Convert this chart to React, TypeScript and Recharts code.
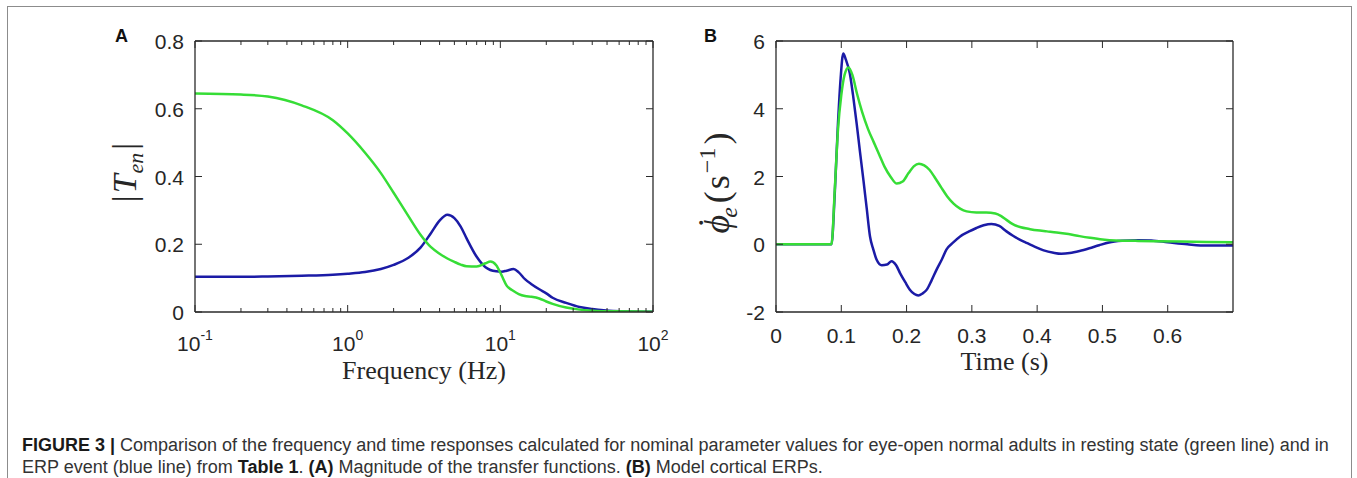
import React from 'react';
import { LineChart, Line, XAxis, YAxis } from 'recharts';

// Panel A: magnitude of the transfer function, log frequency axis
const FREQ_HZ = [
  0.1, 0.2, 0.3, 0.5, 0.8, 1, 1.3, 1.65, 2, 2.5, 3, 3.5, 4, 4.5, 5, 5.5, 6, 7, 8,
  8.6, 9.4, 10.2, 11, 12.2, 13.2, 14.5, 16, 18, 20, 22, 27, 33, 40, 55, 100,
];
const TEN_RESTING = [
  0.645, 0.642, 0.636, 0.61, 0.566, 0.527, 0.47, 0.41, 0.352, 0.283, 0.228, 0.192,
  0.172, 0.158, 0.148, 0.14, 0.135, 0.134, 0.144, 0.149, 0.138, 0.108, 0.078, 0.062,
  0.053, 0.047, 0.045, 0.04, 0.031, 0.024, 0.013, 0.007, 0.004, 0.002, 0.001,
];
const TEN_ERP = [
  0.104, 0.104, 0.105, 0.107, 0.11, 0.113, 0.118, 0.127, 0.139, 0.16, 0.19, 0.232,
  0.27, 0.287, 0.277, 0.252, 0.218, 0.163, 0.132, 0.124, 0.12, 0.119, 0.122, 0.127,
  0.117, 0.097, 0.082, 0.067, 0.055, 0.042, 0.027, 0.015, 0.009, 0.003, 0.0005,
];
const FREQ_TICKS = [
  0.1, 0.2, 0.3, 0.4, 0.5, 0.6, 0.7, 0.8, 0.9, 1, 2, 3, 4, 5, 6, 7, 8, 9, 10, 20, 30,
  40, 50, 60, 70, 80, 90, 100,
];
const TEN_TICKS = [0, 0.2, 0.4, 0.6, 0.8];

// Panel B: model cortical ERPs
const T_RESTING = [
  0, 0.085, 0.09, 0.095, 0.1, 0.105, 0.111, 0.117, 0.124, 0.132, 0.141, 0.15, 0.158,
  0.166, 0.176, 0.185, 0.194, 0.203, 0.211, 0.219, 0.227, 0.235, 0.244, 0.253, 0.262,
  0.272, 0.282, 0.292, 0.307, 0.322, 0.336, 0.345, 0.353, 0.362, 0.375, 0.388, 0.4,
  0.415, 0.43, 0.448, 0.465, 0.481, 0.5, 0.52, 0.55, 0.58, 0.62, 0.66, 0.7,
];
const PHI_RESTING = [
  0, 0, 1.6, 3.4, 4.4, 5.0, 5.22, 5.0, 4.45, 3.9, 3.4, 3.0, 2.65, 2.3, 1.98, 1.79,
  1.85, 2.1, 2.3, 2.38, 2.33, 2.2, 1.95, 1.68, 1.42, 1.2, 1.05, 0.97, 0.94, 0.94, 0.91,
  0.83, 0.72, 0.6, 0.5, 0.45, 0.41, 0.38, 0.35, 0.3, 0.24, 0.19, 0.14, 0.11, 0.1, 0.09,
  0.08, 0.07, 0.06,
];
const T_ERP = [
  0, 0.085, 0.09, 0.095, 0.099, 0.103, 0.107, 0.113, 0.118, 0.1235, 0.1285, 0.134,
  0.139, 0.144, 0.149, 0.154, 0.162, 0.17, 0.177, 0.184, 0.19, 0.198, 0.205, 0.212,
  0.218, 0.224, 0.231, 0.238, 0.246, 0.254, 0.261, 0.272, 0.282, 0.295, 0.307, 0.318,
  0.33, 0.342, 0.353, 0.363, 0.374, 0.385, 0.396, 0.41, 0.425, 0.437, 0.45, 0.465,
  0.48, 0.495, 0.51, 0.53, 0.555, 0.575, 0.6, 0.63, 0.66, 0.7,
];
const PHI_ERP = [
  0, 0, 1.5, 3.6, 4.9, 5.63, 5.45, 5.05, 4.4, 3.57, 2.75, 1.88, 1.05, 0.23, -0.15,
  -0.45, -0.62, -0.6, -0.5, -0.62, -0.85, -1.12, -1.34, -1.47, -1.51, -1.46, -1.34,
  -1.08, -0.75, -0.45, -0.16, 0.06, 0.23, 0.37, 0.48, 0.56, 0.6, 0.54, 0.38, 0.25,
  0.13, 0.03, -0.07, -0.18, -0.25, -0.28, -0.26, -0.2, -0.12, -0.03, 0.05, 0.1, 0.12,
  0.11, 0.06, 0, -0.04, -0.04,
];
const TIME_TICKS = [0, 0.1, 0.2, 0.3, 0.4, 0.5, 0.6];
const PHI_TICKS = [-2, 0, 2, 4, 6];

const GREEN = '#36dd36';
const BLUE = '#1b1ba6';
const AXIS = '#2a2a2a';
const TEXT = '#262626';
const SANS = "'Liberation Sans', Arial, Helvetica, sans-serif";
const SERIF = "'Liberation Serif', 'Times New Roman', serif";
const MAJOR = 7;
const MINOR = 4;

const panelA = FREQ_HZ.map((f, i) => ({ f, rest: TEN_RESTING[i], erp: TEN_ERP[i] }));
const restB = T_RESTING.map((t, i) => ({ t, v: PHI_RESTING[i] }));
const erpB = T_ERP.map((t, i) => ({ t, v: PHI_ERP[i] }));

const isDecade = (v: number) => Math.abs(Math.log10(v) - Math.round(Math.log10(v))) < 1e-9;

type Side = 'bottom' | 'top' | 'left' | 'right';

// ticks point into the plot box, MATLAB style
const inTick =
  (side: Side, opts: { major?: (v: number) => boolean; text?: (v: number, x: number, y: number) => React.ReactNode } = {}) =>
  (props: any) => {
    const { x, y, payload } = props;
    const v = Number(payload.value);
    const major = opts.major ? opts.major(v) : true;
    const len = major ? MAJOR : MINOR;
    let x2 = x;
    let y2 = y;
    if (side === 'bottom') y2 = y - len;
    else if (side === 'top') y2 = y + len;
    else if (side === 'left') x2 = x + len;
    else x2 = x - len;
    return (
      <g>
        <line x1={x} y1={y} x2={x2} y2={y2} stroke={AXIS} strokeWidth={1} />
        {major && opts.text ? opts.text(v, x, y) : null}
      </g>
    );
  };

const leftText = (v: number, x: number, y: number) => (
  <text x={x - 11} y={y + 8} textAnchor="end" fontFamily={SANS} fontSize={21} fill={TEXT}>
    {String(v)}
  </text>
);

const decadeText = (v: number, x: number, y: number) => (
  <text x={x} y={y + 39} textAnchor="middle" fontFamily={SANS} fontSize={21} fill={TEXT}>
    10
    <tspan dy={-11} fontSize={14}>
      {String(Math.round(Math.log10(v)))}
    </tspan>
  </text>
);

const timeText = (v: number, x: number, y: number) => (
  <text x={x} y={y + 31} textAnchor="middle" fontFamily={SANS} fontSize={21} fill={TEXT}>
    {String(v)}
  </text>
);

const FreqTitle = ({ viewBox }: any) => (
  <text x={viewBox.x + viewBox.width / 2} y={viewBox.y + 67} textAnchor="middle" fontFamily={SERIF} fontSize={26} fill={TEXT}>
    Frequency (Hz)
  </text>
);

const TimeTitle = ({ viewBox }: any) => (
  <text x={viewBox.x + viewBox.width / 2} y={viewBox.y + 58} textAnchor="middle" fontFamily={SERIF} fontSize={26} fill={TEXT}>
    Time (s)
  </text>
);

const TenTitle = ({ viewBox }: any) => {
  const bx = viewBox.x + 1;
  const cy = viewBox.y + viewBox.height / 2 - 4;
  return (
    <text
      x={bx}
      y={cy}
      transform={`rotate(-90 ${bx} ${cy})`}
      textAnchor="middle"
      fontFamily={SERIF}
      fontSize={34}
      fill={TEXT}
    >
      |<tspan dx={2} fontStyle="italic">T</tspan>
      <tspan dx={1} dy={7} fontSize={22} fontStyle="italic">en</tspan>
      <tspan dx={3} dy={-7}>|</tspan>
    </text>
  );
};

const PhiTitle = ({ viewBox }: any) => {
  const bx = viewBox.x + 13;
  const cy = viewBox.y + viewBox.height / 2 + 6.5;
  return (
    <text
      x={bx}
      y={cy}
      transform={`rotate(-90 ${bx} ${cy})`}
      textAnchor="middle"
      fontFamily={SERIF}
      fontSize={36}
      fill={TEXT}
    >
      <tspan fontStyle="italic">{'\u03d5'}</tspan>
      <tspan dx={-14} dy={-6}>{'\u02d9'}</tspan>
      <tspan dx={-1} dy={14} fontSize={24} fontStyle="italic">e</tspan>
      <tspan dx={4} dy={-8}>(</tspan>
      <tspan dx={2}>s</tspan>
      <tspan dx={2} dy={-14} fontSize={24}>{'\u22121'}</tspan>
      <tspan dx={3} dy={14}>)</tspan>
    </text>
  );
};

const axisLine = { stroke: AXIS, strokeWidth: 1.3 };

// top and right axes are 1px thick: a zero-sized axis is not drawn at all
const FrequencyPanel = () => (
  <LineChart width={700} height={400} data={panelA} margin={{ top: 40, right: 46, bottom: 28, left: 135 }}>
    <XAxis
      xAxisId="b"
      dataKey="f"
      type="number"
      scale="log"
      domain={[0.1, 100]}
      allowDataOverflow
      ticks={FREQ_TICKS}
      interval={0}
      height={60}
      tickSize={0}
      tickMargin={0}
      tickLine={false}
      axisLine={axisLine}
      tick={inTick('bottom', { major: isDecade, text: decadeText })}
      label={<FreqTitle />}
    />
    <XAxis
      xAxisId="t"
      orientation="top"
      dataKey="f"
      type="number"
      scale="log"
      domain={[0.1, 100]}
      allowDataOverflow
      ticks={FREQ_TICKS}
      interval={0}
      height={1}
      tickSize={0}
      tickMargin={0}
      tickLine={false}
      axisLine={axisLine}
      tick={inTick('top', { major: isDecade })}
    />
    <YAxis
      yAxisId="l"
      type="number"
      domain={[0, 0.8]}
      allowDataOverflow
      ticks={TEN_TICKS}
      interval={0}
      width={60}
      tickSize={0}
      tickMargin={0}
      tickLine={false}
      axisLine={axisLine}
      tick={inTick('left', { text: leftText })}
      label={<TenTitle />}
    />
    <YAxis
      yAxisId="r"
      orientation="right"
      type="number"
      domain={[0, 0.8]}
      allowDataOverflow
      ticks={TEN_TICKS}
      interval={0}
      width={1}
      tickSize={0}
      tickMargin={0}
      tickLine={false}
      axisLine={axisLine}
      tick={inTick('right')}
    />
    <Line xAxisId="b" yAxisId="l" type="monotone" dataKey="erp" stroke={BLUE} strokeWidth={2.5} dot={false} isAnimationActive={false} />
    <Line xAxisId="t" yAxisId="r" type="monotone" dataKey="rest" stroke={GREEN} strokeWidth={2.5} dot={false} isAnimationActive={false} />
  </LineChart>
);

const ErpPanel = () => (
  <LineChart width={700} height={400} margin={{ top: 40, right: 66, bottom: 28, left: 116 }}>
    <XAxis
      xAxisId="b"
      dataKey="t"
      type="number"
      domain={[0, 0.7]}
      allowDataOverflow
      ticks={TIME_TICKS}
      interval={0}
      height={60}
      tickSize={0}
      tickMargin={0}
      tickLine={false}
      axisLine={axisLine}
      tick={inTick('bottom', { text: timeText })}
      label={<TimeTitle />}
    />
    <XAxis
      xAxisId="t"
      orientation="top"
      dataKey="t"
      type="number"
      domain={[0, 0.7]}
      allowDataOverflow
      ticks={TIME_TICKS}
      interval={0}
      height={1}
      tickSize={0}
      tickMargin={0}
      tickLine={false}
      axisLine={axisLine}
      tick={inTick('top')}
    />
    <YAxis
      yAxisId="l"
      type="number"
      domain={[-2, 6]}
      allowDataOverflow
      ticks={PHI_TICKS}
      interval={0}
      width={60}
      tickSize={0}
      tickMargin={0}
      tickLine={false}
      axisLine={axisLine}
      tick={inTick('left', { text: leftText })}
      label={<PhiTitle />}
    />
    <YAxis
      yAxisId="r"
      orientation="right"
      type="number"
      domain={[-2, 6]}
      allowDataOverflow
      ticks={PHI_TICKS}
      interval={0}
      width={1}
      tickSize={0}
      tickMargin={0}
      tickLine={false}
      axisLine={axisLine}
      tick={inTick('right')}
    />
    <Line xAxisId="b" yAxisId="l" data={erpB} type="monotone" dataKey="v" stroke={BLUE} strokeWidth={2.5} dot={false} isAnimationActive={false} />
    <Line xAxisId="t" yAxisId="r" data={restB} type="monotone" dataKey="v" stroke={GREEN} strokeWidth={2.5} dot={false} isAnimationActive={false} />
  </LineChart>
);

export default function App() {
  return (
    <div style={{ position: 'absolute', left: 0, top: 0, width: 1357, height: 478, overflow: 'hidden', background: '#fff' }}>
      <div
        style={{
          position: 'absolute',
          left: 7,
          top: 6,
          width: 1345,
          height: 500,
          border: '1.5px solid #8c8c8c',
          boxSizing: 'border-box',
        }}
      />
      <div style={{ position: 'absolute', left: 0, top: 0 }}>
        <FrequencyPanel />
      </div>
      <div style={{ position: 'absolute', left: 600, top: 0 }}>
        <ErpPanel />
      </div>
      <svg width={1357} height={478} style={{ position: 'absolute', left: 0, top: 0, pointerEvents: 'none' }}>
        <text x={115} y={42} fontFamily={SANS} fontWeight="bold" fontSize={18} fill="#111">
          A
        </text>
        <text x={704} y={42} fontFamily={SANS} fontWeight="bold" fontSize={18} fill="#111">
          B
        </text>
        <text x={22} y={451} fontFamily={SANS} fontSize={18} fill="#333">
          <tspan fontWeight="bold" fill="#1a1a1a">FIGURE 3 |</tspan> Comparison of the frequency and time responses calculated for
          nominal parameter values for eye-open normal adults in resting state (green line) and in
        </text>
        <text x={22} y={473} fontFamily={SANS} fontSize={18} fill="#333">
          ERP event (blue line) from <tspan fontWeight="bold" fill="#1a1a1a">Table 1</tspan>.{' '}
          <tspan fontWeight="bold" fill="#1a1a1a">(A)</tspan> Magnitude of the transfer functions.{' '}
          <tspan fontWeight="bold" fill="#1a1a1a">(B)</tspan> Model cortical ERPs.
        </text>
      </svg>
    </div>
  );
}
